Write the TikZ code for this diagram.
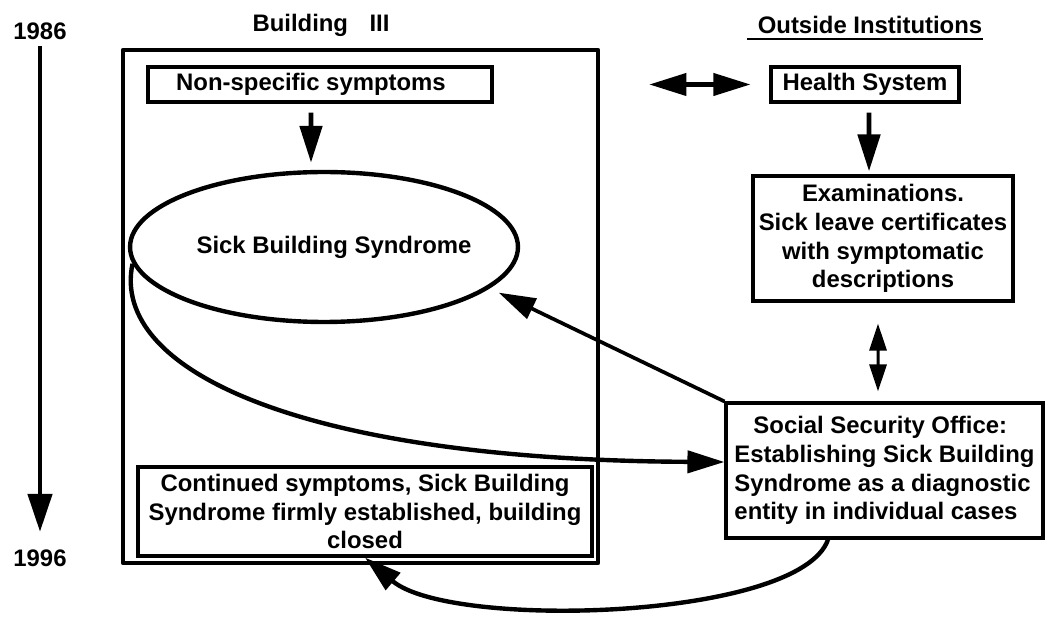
\documentclass[tikz,border=0pt]{standalone}
\usepackage{fontspec}
\setmainfont{Liberation Sans}
\usetikzlibrary{arrows.meta, shapes.geometric}

\begin{document}
\begin{tikzpicture}[x=0.02cm, y=-0.02cm,
  every node/.style={font=\bfseries\fontsize{13.6}{16.4}\selectfont},
  bigtip/.tip={Triangle[length=0.74cm, width=0.44cm]},
  smalltip/.tip={Triangle[length=0.54cm, width=0.34cm]},
  box/.style={draw, line width=1.8pt, inner sep=1pt},
  fat/.style={line width=2.8pt, -bigtip},
  curve/.style={line width=2.5pt, -bigtip}]
\useasboundingbox (0,0) rectangle (1050,617);

\node (y1986) at (40,31) {1986};
\node (y1996) at (40,558) {1996};
\draw[line width=2.6pt, -{Triangle[length=0.76cm, width=0.48cm]}, shorten >=0.23cm] (y1986) -- (y1996);

\node (bt) at (321,25) {Building\hspace{0.9em}III};
\node[inner sep=0] (oi) at (870,25) {Outside Institutions};
\draw[line width=1.1pt] ([xshift=-0.2cm, yshift=-0.09cm]oi.south west) -- ([yshift=-0.09cm]oi.south east);

\node[draw, line width=2.7pt, line join=round, minimum width=9.5cm, minimum height=10.26cm, inner sep=0] (bldg) at (360.5,306.5) {};

\node[box, minimum width=6.88cm, minimum height=0.7cm] (nss) at (320,84.5) {Non-specific symptoms\hspace*{0.36cm}};
\node[draw, ellipse, line width=2.5pt, minimum width=7.76cm, minimum height=3cm, inner sep=0] (sbs) at (324,247) {\makebox[0pt]{\hspace*{0.4cm}Sick Building Syndrome}};
\node[box, align=center, minimum width=9.08cm, minimum height=1.78cm] (cont) at (365,511.5) {Continued symptoms, Sick Building\\Syndrome firmly established, building\\closed};

\node[box, minimum width=3.76cm, minimum height=0.7cm] (hs) at (865,84.5) {Health System};
\node[box, align=center, minimum width=5.2cm, minimum height=2.5cm] (exam) at (883,238.5) {Examinations.\\Sick leave certificates\\with symptomatic\\descriptions};
\node[box, align=left, minimum width=6.34cm, minimum height=2.7cm] (sso) at (884.5,470.5) {\hspace*{0.38cm}Social Security Office:\\Establishing Sick Building\\Syndrome as a diagnostic\\entity in individual cases};

\draw[fat, shorten <=0.18cm, shorten >=0.14cm] ([xshift=-0.18cm]nss.south) -- ([xshift=-0.26cm]sbs.north);
\draw[fat, shorten <=0.18cm, shorten >=0.06cm] ([xshift=0.08cm]hs.south) -- ([xshift=-0.28cm]exam.north);
\draw[line width=2.3pt, bigtip-bigtip, shorten <=0.98cm, shorten >=0.38cm] (bldg.east |- hs.west) -- (hs.west);
\draw[line width=1.7pt, smalltip-smalltip, shorten <=0.42cm, shorten >=0.2cm] ([xshift=-0.1cm]exam.south) -- ([xshift=-0.13cm]sso.north);
\draw[fat, line width=2.1pt, shorten >=0.2cm] (sso.north west) -- (sbs.-14);
\draw[curve] (sbs.185) .. controls (110,370) and (300,460) .. ([yshift=0.17cm]sso.west);
\draw[curve] ([xshift=-1.13cm]sso.south) .. controls (800,620) and (450,630) .. (cont.south);
\end{tikzpicture}
\end{document}
